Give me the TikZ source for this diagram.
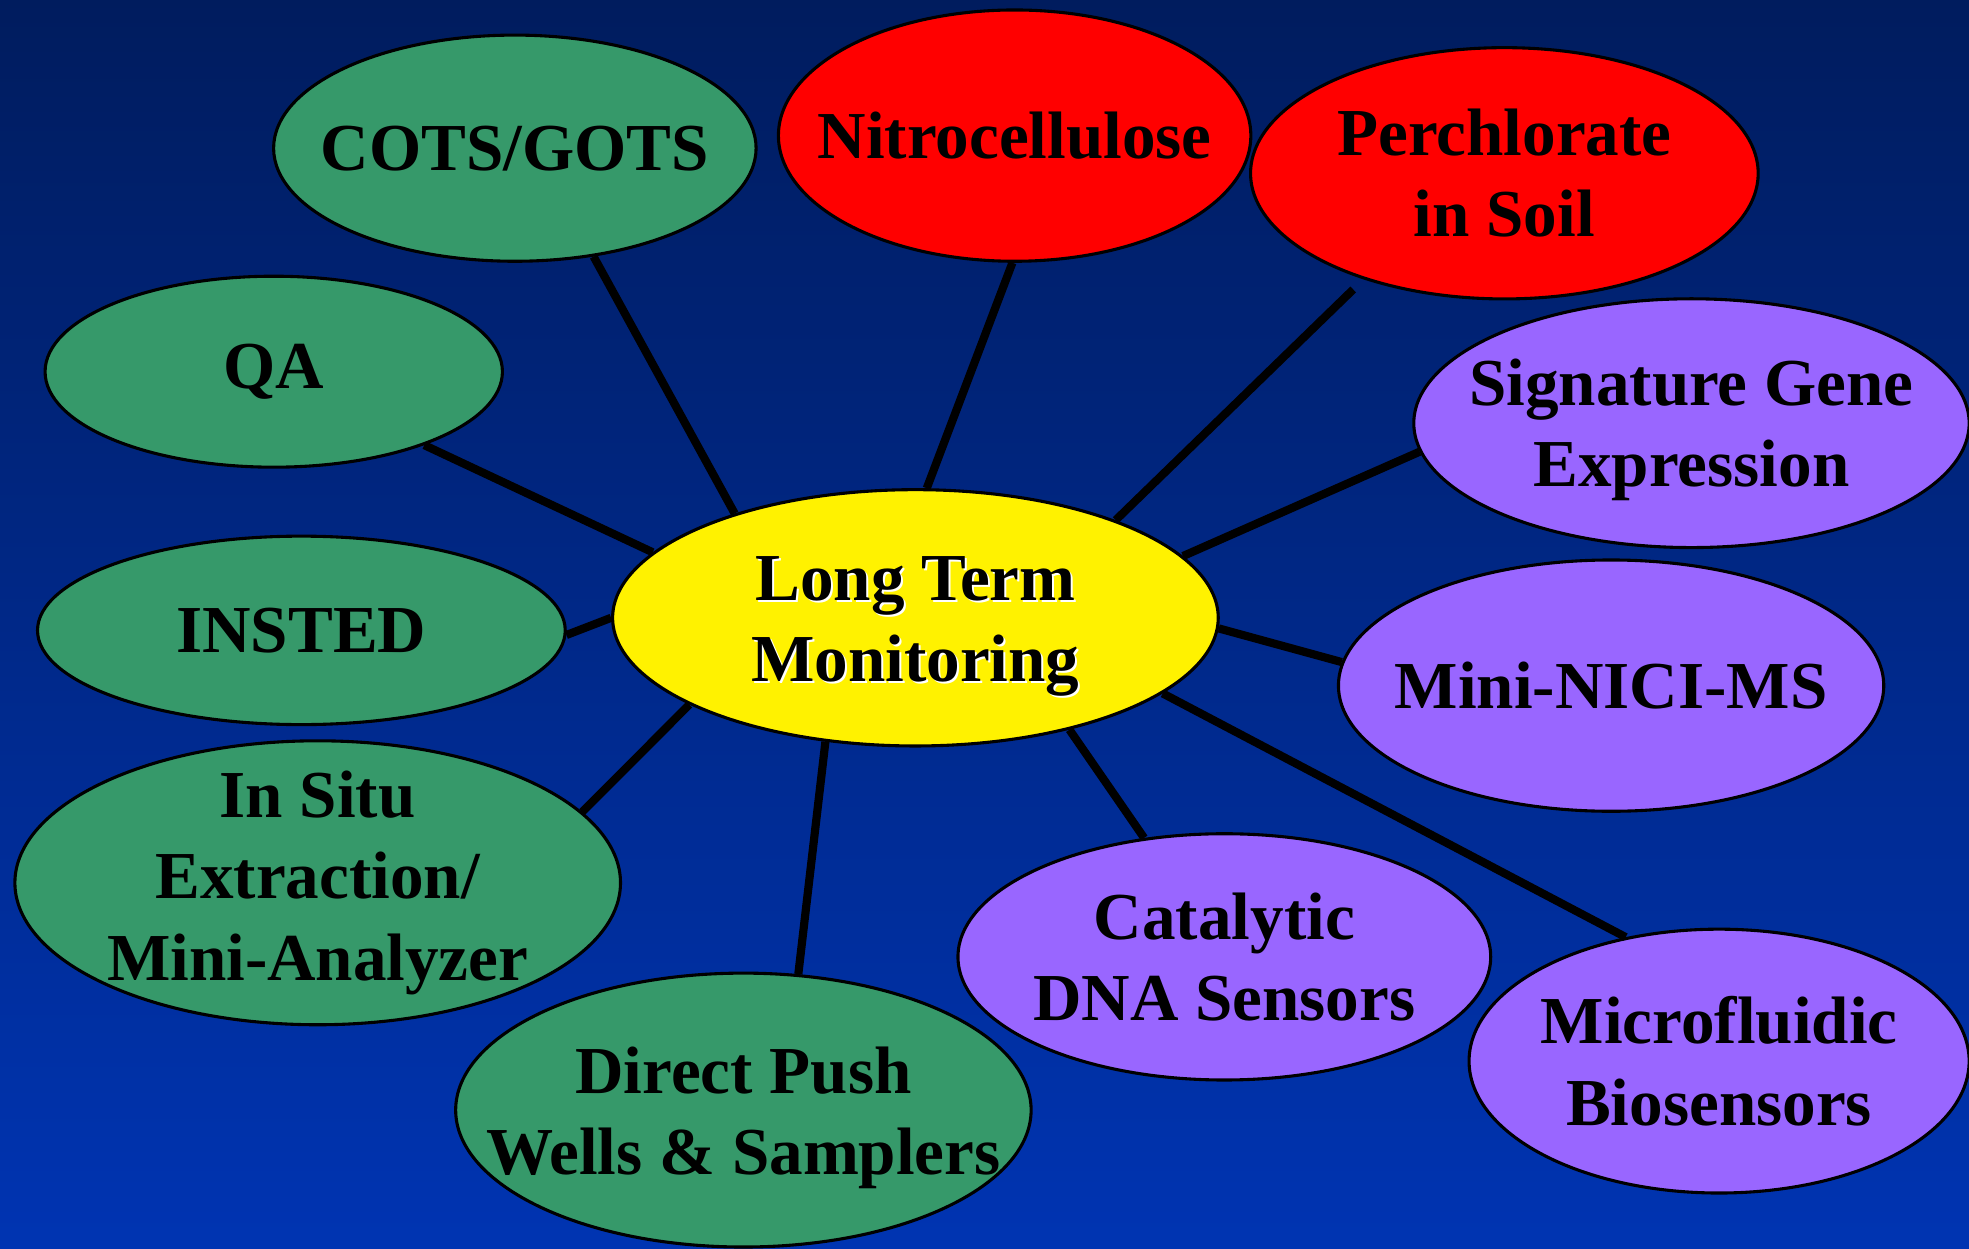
\documentclass[tikz,border=0pt]{standalone}
\usepackage{fontspec}
\setmainfont{Liberation Serif}
\usetikzlibrary{shapes.geometric}

\definecolor{bgtop}{HTML}{001C5E}
\definecolor{bgbot}{HTML}{0034B2}
\definecolor{grn}{HTML}{36996A}
\definecolor{purp}{HTML}{9966FF}

\begin{document}
\begin{tikzpicture}
	[
		x=0.01cm, y=-0.01cm,
		blob/.style = {ellipse, draw=black, line width=0.7pt, inner sep=0pt},
		G/.style = {blob, fill=grn},
		R/.style = {blob, fill=red},
		P/.style = {blob, fill=purp},
		Y/.style = {blob, fill=yellow},
		txt/.style = {align=center, inner sep=0pt, text=black,
			font=\fontsize{15.2}{18.4}\selectfont\bfseries},
		link/.style = {line width=1.85pt, black},
	]

	% background
	\useasboundingbox (0,0) rectangle (1568,994);
	\shade[top color=bgtop, bottom color=bgbot] (0,0) rectangle (1568,994);

	% center
	\node[Y, minimum width=4.82cm, minimum height=2.04cm] (ltm) at (729,492) {};

	% green nodes
	\node[G, minimum width=3.84cm, minimum height=1.80cm] (cots)   at (410,118) {};
	\node[G, minimum width=3.64cm, minimum height=1.52cm] (qa)     at (218,296) {};
	\node[G, minimum width=4.20cm, minimum height=1.50cm] (insted) at (240,502) {};
	\node[G, minimum width=4.82cm, minimum height=2.26cm] (insitu) at (253,703) {};
	\node[G, minimum width=4.58cm, minimum height=2.18cm] (direct) at (592,884) {};

	% red nodes
	\node[R, minimum width=3.76cm, minimum height=2.00cm] (nitro) at (808,108) {};
	\node[R, minimum width=4.04cm, minimum height=2.00cm] (perch) at (1198,138) {};

	% purple nodes
	\node[P, minimum width=4.42cm, minimum height=1.98cm] (sig)   at (1347,337) {};
	\node[P, minimum width=4.34cm, minimum height=2.00cm] (mini)  at (1283,546) {};
	\node[P, minimum width=4.24cm, minimum height=1.96cm] (cat)   at (975,762) {};
	\node[P, minimum width=3.98cm, minimum height=2.10cm] (micro) at (1369,845) {};

	% spokes
	\foreach \a/\to/\b in {150/cots/-54, 85/nitro/-91, 166/qa/-26, 13/sig/186,
		180/insted/-1, -2/mini/175, 201/insitu/15, -36/cat/124, 234/direct/68,
		-17/micro/127}
	\draw[link] (ltm.\a) -- (\to.\b);
	\draw[link, shorten >=0.115cm] (ltm.26) -- (perch.-143);

	% labels
	\node[txt, text=white, yshift=-2pt] (ltmS) at ([shift={(1.6,1.6)}]ltm) {Long Term\\Monitoring};
	\node[txt, yshift=-2pt] (ltmT) at (ltm) {Long Term\\Monitoring};
	\node[txt] (cotsT)   at (cots)   {COTS/GOTS};
	\node[txt] (qaT)     at (qa)     {QA};
	\node[txt] (instedT) at (insted) {INSTED};
	\node[txt] (insituT) at (insitu) {In Situ\\Extraction/\\Mini-Analyzer};
	\node[txt, yshift=-1.8pt] (directT) at (direct) {Direct Push\\Wells \& Samplers};
	\node[txt] (nitroT)  at (nitro)  {Nitrocellulose};
	\node[txt] (perchT)  at (perch)  {Perchlorate\\in Soil};
	\node[txt, yshift=-1.5pt] (sigT) at (sig) {Signature Gene\\Expression};
	\node[txt] (miniT)   at (mini)   {Mini-NICI-MS};
	\node[txt] (catT)    at (cat)    {Catalytic\\DNA Sensors};
	\node[txt] (microT)  at (micro)  {Microfluidic\\Biosensors};

\end{tikzpicture}
\end{document}
